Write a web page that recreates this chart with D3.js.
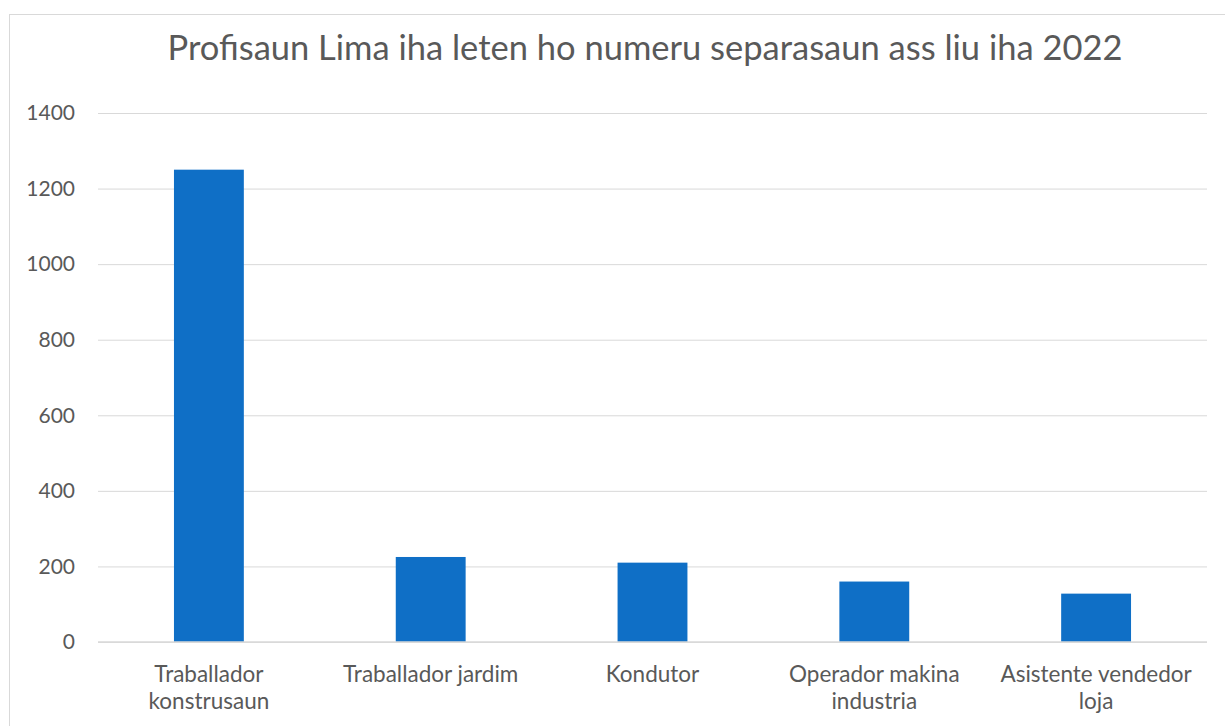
<!DOCTYPE html>
<html>
<head>
<meta charset="utf-8">
<script src="https://cdn.jsdelivr.net/npm/d3@7"></script>
<style>
  body { margin: 0; background: #fff; }
  text { font-family: Lato, "Open Sans", sans-serif; fill: #595959; }
</style>
</head>
<body>
<div id="chart"></div>
<script>
const chartTitle = "Profisaun Lima iha leten ho numeru separasaun ass liu iha 2022"
const categories = [
    ["Traballador", "konstrusaun"],
    ["Traballador jardim"],
    ["Kondutor"],
    ["Operador makina", "industria"],
    ["Asistente vendedor", "loja"]
]
const values = [1250, 225, 210, 160, 128]
const yTicks = [0, 200, 400, 600, 800, 1000, 1200, 1400]

const width = 1225, height = 726
const margin = {top: 113, right: 18, bottom: 84, left: 98}

const svg = d3.select("#chart").append("svg")
    .attr("width", width)
    .attr("height", height)

// chart frame
svg.append("rect")
    .attr("x", 9.5).attr("y", 14.5)
    .attr("width", width + 20).attr("height", height + 20)
    .attr("fill", "none")
    .attr("stroke", "#d9d9d9")

svg.append("text")
    .attr("x", 645)
    .attr("y", 60)
    .attr("text-anchor", "middle")
    .attr("font-size", 34.5)
    .text(chartTitle)

const x = d3.scaleBand()
    .domain(d3.range(categories.length))
    .range([margin.left, width - margin.right])
    .paddingInner(0.685)
    .paddingOuter(0.3425)

const y = d3.scaleLinear()
    .domain([0, 1400])
    .range([height - margin.bottom, margin.top])

const yAxis = svg.append("g")
    .attr("transform", `translate(${margin.left},0)`)
    .call(d3.axisLeft(y).tickValues(yTicks).tickFormat(d3.format("d"))
        .tickSize(-(width - margin.left - margin.right)).tickPadding(23))
yAxis.select(".domain").remove()
yAxis.selectAll(".tick line").attr("stroke", "#d9d9d9")
yAxis.selectAll(".tick text")
    .attr("font-size", 21)
    .attr("fill", "#595959")
    .style("font-family", "Lato, 'Open Sans', sans-serif")

svg.selectAll("rect.bar")
    .data(values)
    .join("rect")
    .attr("class", "bar")
    .attr("x", (d, i) => x(i))
    .attr("y", d => y(d))
    .attr("width", x.bandwidth())
    .attr("height", d => y(0) - y(d))
    .attr("fill", "#0f6fc6")

// baseline
svg.append("line")
    .attr("x1", margin.left).attr("x2", width - margin.right)
    .attr("y1", y(0)).attr("y2", y(0))
    .attr("stroke", "#d9d9d9")
    .attr("stroke-width", 1.5)

const labels = svg.append("g")
    .selectAll("text")
    .data(categories)
    .join("text")
    .attr("text-anchor", "middle")
    .attr("font-size", 22.5)
    .attr("x", (d, i) => x(i) + x.bandwidth() / 2)
    .attr("y", y(0) + 40)
labels.selectAll("tspan")
    .data(d => d)
    .join("tspan")
    .attr("x", function () { return this.parentNode.getAttribute("x") })
    .attr("dy", (d, i) => i === 0 ? 0 : 27)
    .text(d => d)
</script>
</body>
</html>
